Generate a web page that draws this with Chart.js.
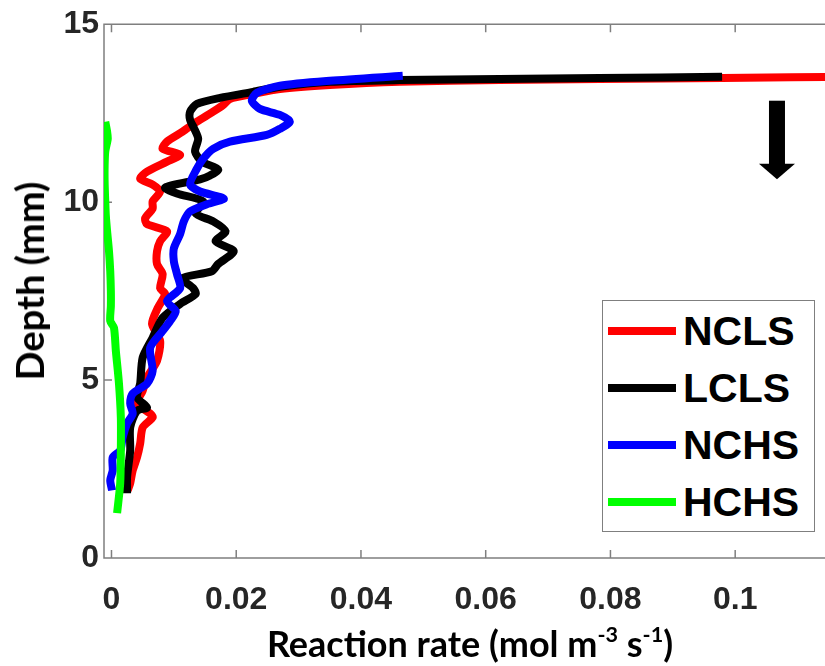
<!DOCTYPE html>
<html>
<head>
<meta charset="utf-8">
<script src="https://cdn.jsdelivr.net/npm/chart.js@4.4.1/dist/chart.umd.min.js"></script>
<style>
    html, body { margin: 0; padding: 0; background: #fff; overflow: hidden; }
    #wrap { position: relative; width: 825px; height: 666px; }
    #legend { position: absolute; left: 602px; top: 300px; width: 211px; height: 230px; border: 1.5px solid #7f7f7f; background: #fff; }
    #legend .row { position: absolute; left: 0; height: 42px; display: flex; align-items: center; }
    #legend .swatch { display: inline-block; width: 68px; height: 8px; margin-left: 5px; }
    #legend .name { margin-left: 7px; font: bold 41px "Liberation Sans", Arial, sans-serif; line-height: 1; color: #000; }
    .axis-title { position: absolute; font-family: Lato, "Open Sans", sans-serif; font-weight: 700; color: #000; white-space: nowrap; line-height: 1; }
    .axis-title sup { font-size: 0.6em; vertical-align: 0.7em; line-height: 0; }
    #xlabel { left: 0; width: 940px; top: 625px; text-align: center; font-size: 36px; }
    #ylabel { left: 29px; top: 281px; font-size: 38px; transform: translate(-50%, -50%) rotate(-90deg); }
</style>
</head>
<body>
<div id="wrap">
    <canvas id="chart" width="825" height="666"></canvas>
    <div id="legend"></div>
    <div id="xlabel" class="axis-title">Reaction rate (mol m<sup>-3</sup> s<sup>-1</sup>)</div>
    <div id="ylabel" class="axis-title">Depth (mm)</div>
</div>
<script>
// Series y ordenes
const seriesNames = ['NCLS', 'LCLS', 'NCHS', 'HCHS'];
const seriesColors = ['#ff0000', '#000000', '#0000ff', '#00ff00'];
const xTicks = [0, 0.02, 0.04, 0.06, 0.08, 0.1];
const yTicks = [0, 5, 10, 15];

// Reaction rate (mol m-3 s-1) vs depth (mm)
const nclsRate = [0.1200, 0.0979, 0.0782, 0.0622, 0.0462, 0.0350, 0.0270, 0.0227, 0.0190, 0.0179, 0.0163, 0.0137, 0.0114, 0.0089, 0.0082, 0.0110, 0.0089, 0.0057, 0.0046, 0.0066, 0.0078, 0.0066, 0.0066, 0.0054, 0.0057, 0.0089, 0.0078, 0.0073, 0.0073, 0.0082, 0.0078, 0.0086, 0.0074, 0.0065, 0.0078, 0.0073, 0.0057, 0.0050, 0.0041, 0.0062, 0.0066, 0.0050, 0.0046, 0.0041, 0.0034, 0.0030, 0.0026];
const nclsDepth = [13.53, 13.49, 13.46, 13.43, 13.38, 13.29, 13.18, 13.04, 12.90, 12.73, 12.54, 12.26, 11.98, 11.70, 11.50, 11.33, 11.14, 10.86, 10.66, 10.49, 10.30, 10.02, 9.82, 9.55, 9.38, 9.18, 8.90, 8.62, 8.26, 7.98, 7.58, 7.42, 7.02, 6.58, 6.10, 5.54, 5.07, 4.70, 4.34, 4.06, 3.95, 3.67, 3.22, 2.83, 2.46, 2.10, 1.90];

const lclsRate = [0.0979, 0.0782, 0.0622, 0.0462, 0.0350, 0.0270, 0.0227, 0.0174, 0.0137, 0.0126, 0.0126, 0.0132, 0.0139, 0.0134, 0.0145, 0.0171, 0.0158, 0.0142, 0.0086, 0.0105, 0.0147, 0.0135, 0.0163, 0.0183, 0.0167, 0.0196, 0.0171, 0.0161, 0.0113, 0.0131, 0.0135, 0.0110, 0.0082, 0.0066, 0.0050, 0.0046, 0.0041, 0.0057, 0.0041, 0.0030, 0.0030, 0.0025, 0.0025];
const lclsDepth = [13.52, 13.49, 13.46, 13.43, 13.38, 13.24, 13.10, 12.93, 12.76, 12.54, 12.31, 12.09, 11.78, 11.42, 11.14, 10.92, 10.75, 10.64, 10.41, 10.24, 10.02, 9.68, 9.46, 9.18, 8.90, 8.62, 8.26, 8.06, 7.86, 7.58, 7.42, 7.14, 6.75, 6.19, 5.63, 4.90, 4.51, 4.23, 4.14, 3.67, 3.02, 2.27, 1.82];

const nchsRate = [0.0467, 0.0350, 0.0270, 0.0233, 0.0225, 0.0238, 0.0270, 0.0286, 0.0270, 0.0249, 0.0190, 0.0163, 0.0147, 0.0137, 0.0126, 0.0142, 0.0180, 0.0153, 0.0126, 0.0116, 0.0110, 0.0100, 0.0100, 0.0105, 0.0110, 0.0089, 0.0103, 0.0094, 0.0082, 0.0062, 0.0066, 0.0057, 0.0034, 0.0030, 0.0034, 0.0025, 0.0018, 0.0014, 0.0002, 0.0002, -0.0002, 0.0001];
const nchsDepth = [13.55, 13.41, 13.27, 13.07, 12.85, 12.62, 12.45, 12.26, 12.06, 11.89, 11.70, 11.50, 11.22, 10.94, 10.50, 10.30, 10.10, 9.94, 9.74, 9.46, 9.10, 8.70, 8.34, 7.98, 7.58, 7.22, 6.94, 6.66, 6.38, 5.91, 5.26, 4.90, 4.62, 4.34, 4.06, 3.78, 3.39, 3.02, 2.83, 2.46, 2.18, 1.90];

const hchsRate = [-0.0010, -0.0007, -0.0006, -0.0010, -0.0011, -0.0011, -0.0010, -0.0009, -0.0007, -0.0004, -0.0002, -0.0001, -0.0001, -0.0002, 0.0004, 0.0007, 0.0012, 0.0015, 0.0015, 0.0014, 0.0009];
const hchsDepth = [12.26, 11.98, 11.78, 11.42, 11.00, 10.58, 10.02, 9.60, 9.18, 8.62, 8.06, 7.50, 7.08, 6.66, 6.47, 5.82, 4.90, 3.95, 3.02, 2.10, 1.26];

// Flecha (dirección de lectura), en unidades de datos
const arrowX = 0.1067;
const arrowTop = 12.85;
const arrowHeadBase = 11.08;
const arrowTip = 10.64;

const series = [[nclsRate, nclsDepth], [lclsRate, lclsDepth], [nchsRate, nchsDepth], [hchsRate, hchsDepth]];
const toPoints = (rate, depth) => rate.map((x, i) => ({ x, y: depth[i] }));

const datasets = series.map(([rate, depth], i) => ({
    label: seriesNames[i],
    data: toPoints(rate, depth),
    borderColor: seriesColors[i],
    backgroundColor: seriesColors[i],
    borderWidth: 8,
    showLine: true,
    fill: false,
    pointRadius: 0,
    tension: 0.25,
    borderJoinStyle: 'round',
    order: seriesNames.length - i   // el último se dibuja encima (como en MATLAB)
}));

const tickFont = { family: '"Liberation Sans", Arial, sans-serif', size: 32, weight: 'bold' };
const axisColor = '#7f7f7f';

// Caja del eje con marcas hacia adentro
const boxPlugin = {
    id: 'boxTicks',
    beforeDatasetsDraw(chart) {
        const { ctx, chartArea: a, scales: { x, y } } = chart;
        ctx.save();
        ctx.strokeStyle = axisColor;
        ctx.lineWidth = 1.5;
        ctx.beginPath();
        ctx.moveTo(a.right + 5, a.top); ctx.lineTo(a.left, a.top);
        ctx.lineTo(a.left, a.bottom); ctx.lineTo(a.right + 5, a.bottom);
        x.ticks.forEach(t => {
            const px = x.getPixelForValue(t.value);
            ctx.moveTo(px, a.bottom); ctx.lineTo(px, a.bottom - 8);
            ctx.moveTo(px, a.top); ctx.lineTo(px, a.top + 8);
        });
        y.ticks.forEach(t => {
            const py = y.getPixelForValue(t.value);
            ctx.moveTo(a.left, py); ctx.lineTo(a.left + 8, py);
        });
        ctx.stroke();
        ctx.restore();
    },
    afterDraw(chart) {
        const { ctx, scales: { x, y } } = chart;
        const cx = x.getPixelForValue(arrowX);
        const top = y.getPixelForValue(arrowTop);
        const base = y.getPixelForValue(arrowHeadBase);
        const tip = y.getPixelForValue(arrowTip);
        ctx.save();
        ctx.fillStyle = '#000';
        ctx.fillRect(cx - 8, top, 16, base - top + 1);
        ctx.beginPath();
        ctx.moveTo(cx - 18, base); ctx.lineTo(cx + 18, base); ctx.lineTo(cx, tip);
        ctx.closePath();
        ctx.fill();
        ctx.restore();
    }
};

const chart = new Chart(document.getElementById('chart'), {
    type: 'scatter',
    data: { datasets },
    options: {
        responsive: false,
        animation: false,
        devicePixelRatio: 1,
        layout: { padding: { top: 22, left: 0, right: 0, bottom: 0 } },
        plugins: { legend: { display: false }, tooltip: { enabled: false } },
        scales: {
            x: {
                type: 'linear',
                min: -0.0012,
                max: 0.1144,
                afterFit: s => { s.height = 108; },
                afterBuildTicks: s => { s.ticks = xTicks.map(v => ({ value: v })); },
                grid: { display: false, drawTicks: false },
                border: { display: false },
                ticks: { padding: 23, color: '#262626', font: tickFont, maxRotation: 0, autoSkip: false, callback: v => String(+v.toFixed(2)) }
            },
            y: {
                type: 'linear',
                min: 0,
                max: 15,
                afterFit: s => { s.width = 104; },
                afterBuildTicks: s => { s.ticks = yTicks.map(v => ({ value: v })); },
                grid: { display: false, drawTicks: false },
                border: { display: false },
                ticks: { padding: 5, color: '#262626', font: tickFont, autoSkip: false, callback: v => String(v) }
            }
        }
    },
    plugins: [boxPlugin]
});

// Leyenda en HTML a partir de los datasets
const legendEl = document.getElementById('legend');
chart.data.datasets.forEach((ds, i) => {
    const row = document.createElement('div');
    row.className = 'row';
    row.style.top = (i * 57 + 9) + 'px';
    row.innerHTML = '<span class="swatch" style="background:' + ds.borderColor + '"></span><span class="name">' + ds.label + '</span>';
    legendEl.appendChild(row);
});
</script>
</body>
</html>
